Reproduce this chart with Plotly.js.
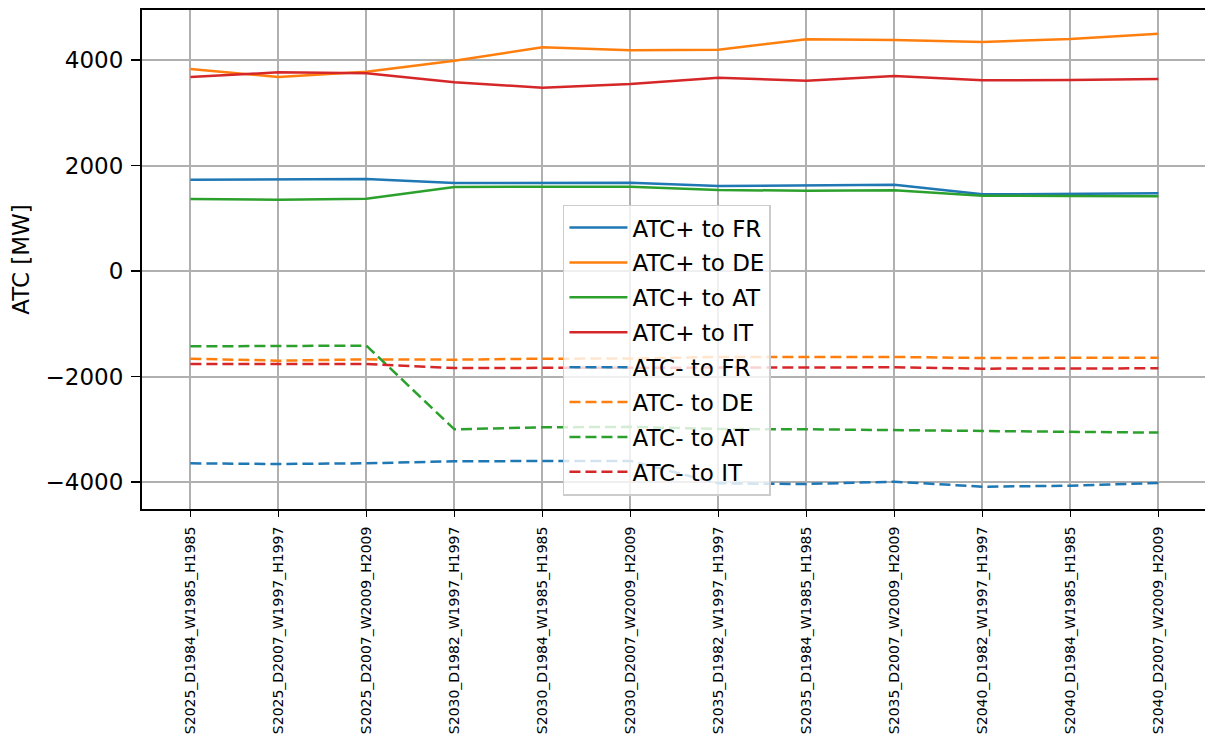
<!DOCTYPE html>
<html>
<head>
<meta charset="utf-8">
<script src="https://cdn.plot.ly/plotly-3.0.1.min.js"></script>
<style>html,body{margin:0;padding:0;background:#fff;}#chart{width:1205px;height:740px;}</style>
</head>
<body>
<div id="chart"></div>
<script>
const categories = [
  "S2025_D1984_W1985_H1985","S2025_D2007_W1997_H1997","S2025_D2007_W2009_H2009",
  "S2030_D1982_W1997_H1997","S2030_D1984_W1985_H1985","S2030_D2007_W2009_H2009",
  "S2035_D1982_W1997_H1997","S2035_D1984_W1985_H1985","S2035_D2007_W2009_H2009",
  "S2040_D1982_W1997_H1997","S2040_D1984_W1985_H1985","S2040_D2007_W2009_H2009"
];
const atcPlusFR = [1731,1731,1744,1668,1674,1674,1611,1630,1636,1453,1460,1472];
const atcPlusDE = [3829,3678,3779,3987,4240,4183,4196,4392,4379,4341,4398,4499];
const atcPlusAT = [1365,1352,1371,1592,1598,1598,1535,1522,1529,1428,1422,1415];
const atcPlusIT = [3678,3766,3747,3577,3475,3545,3665,3608,3697,3615,3621,3640];
const atcMinusFR = [-3646,-3659,-3646,-3608,-3602,-3600,-4025,-4038,-3994,-4089,-4070,-4019];
const atcMinusDE = [-1662,-1700,-1675,-1681,-1662,-1660,-1630,-1624,-1630,-1649,-1643,-1643];
const atcMinusAT = [-1428,-1428,-1415,-3001,-2964,-2955,-2995,-3001,-3014,-3039,-3052,-3064];
const atcMinusIT = [-1763,-1763,-1763,-1839,-1839,-1833,-1833,-1826,-1826,-1851,-1851,-1845];

const seriesNames = ["ATC+ to FR","ATC+ to DE","ATC+ to AT","ATC+ to IT","ATC- to FR","ATC- to DE","ATC- to AT","ATC- to IT"];
const seriesData = [atcPlusFR, atcPlusDE, atcPlusAT, atcPlusIT, atcMinusFR, atcMinusDE, atcMinusAT, atcMinusIT];
const colors = ["#1f77b4","#ff7f0e","#2ca02c","#d62728"];

const xIdx = categories.map((c,i)=>i);
const traces = seriesData.map((ys,k)=>({
  type:"scatter", mode:"lines", x:xIdx, y:ys, name:seriesNames[k],
  legendgroup:"g"+k,
  line:{color:colors[k%4], width:2.5, dash: k<4 ? "solid" : "11px,5px"}
}));

const layout = {
  width:1205, height:740,
  margin:{l:142, r:0, t:10, b:231},
  paper_bgcolor:"#fff", plot_bgcolor:"#fff",
  font:{family:"DejaVu Sans", color:"#000"},
  showlegend:true,
  legend:{x:0.396, y:0.610, xanchor:"left", yanchor:"top",
    bgcolor:"rgba(255,255,255,0.8)", bordercolor:"#cccccc", borderwidth:1.5,
    font:{size:23, family:"DejaVu Sans"}, itemwidth:58, tracegroupgap:2},
  xaxis:{
    range:[-0.55, 11.53], tickmode:"array", tickvals:xIdx, ticktext:categories,
    tickangle:-90, tickfont:{size:14}, ticks:"outside", ticklen:6, tickwidth:1.5, tickcolor:"#000",
    ticklabelstandoff:4,
    showgrid:true, gridcolor:"#b0b0b0", gridwidth:2, zeroline:false,
    showline:true, linecolor:"#000", linewidth:2, mirror:true
  },
  yaxis:{
    range:[-4512, 4948], tickvals:[-4000,-2000,0,2000,4000],
    ticktext:["\u22124000","\u22122000","0","2000","4000"],
    tickfont:{size:23}, ticks:"outside", ticklen:9, tickwidth:1.5, tickcolor:"#000",
    ticklabelstandoff:3,
    showgrid:true, gridcolor:"#b0b0b0", gridwidth:2, zeroline:false,
    showline:true, linecolor:"#000", linewidth:2, mirror:true,
    title:{text:"ATC [MW]", font:{size:23}, standoff:10}
  }
};
Plotly.newPlot("chart", traces, layout, {staticPlot:true});
</script>
</body>
</html>
